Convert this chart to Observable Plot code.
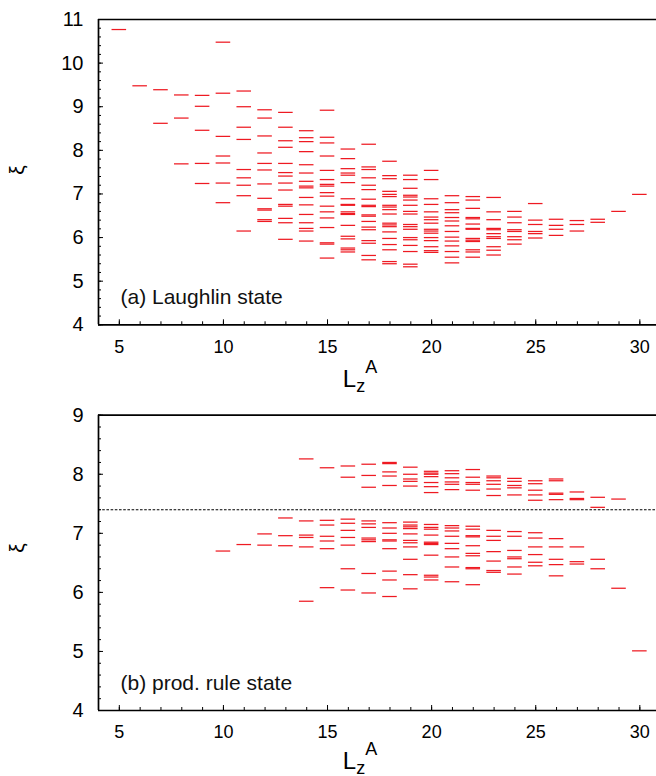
<!DOCTYPE html>
<html><head><meta charset="utf-8">
<script src="https://cdn.jsdelivr.net/npm/d3@7"></script>
<script src="https://cdn.jsdelivr.net/npm/@observablehq/plot@0.6"></script>
<style>
body{margin:0;background:#fff;}
#chart{width:656px;height:776px;overflow:hidden;}
#chart svg{display:block;}
</style>
</head><body><div id="chart"></div>
<script>
// Panel (a): Laughlin state — entanglement levels xi per L_z^A
const laughlinLz = [5,6,7,8,9,10,11,12,13,14,15,16,17,18,19,20,21,22,23,24,25,26,27,28,29,30];
const laughlinXi = [
  [10.77],
  [9.48],
  [9.39, 8.62],
  [9.27, 8.74, 7.69],
  [9.26, 9.01, 8.46, 7.70, 7.24],
  [10.48, 9.31, 8.32, 7.87, 7.71, 7.25, 6.80],
  [9.36, 9.00, 8.53, 8.25, 7.56, 7.37, 7.20, 6.96, 6.15],
  [8.93, 8.74, 8.33, 7.94, 7.70, 7.55, 7.23, 6.90, 6.66, 6.63, 6.41, 6.37],
  [8.87, 8.53, 8.22, 8.07, 7.70, 7.49, 7.41, 7.25, 7.09, 6.76, 6.72, 6.44, 6.34, 5.96],
  [8.45, 8.29, 8.20, 7.97, 7.67, 7.48, 7.29, 7.18, 7.14, 6.92, 6.75, 6.53, 6.34, 6.21, 6.15, 5.92],
  [8.92, 8.30, 8.17, 7.87, 7.54, 7.33, 7.22, 7.18, 7.03, 6.95, 6.72, 6.59, 6.45, 6.23, 5.88, 5.85, 5.53],
  [8.03, 7.81, 7.58, 7.48, 7.43, 7.26, 6.89, 6.76, 6.74, 6.59, 6.55, 6.53, 6.28, 6.03, 5.97, 5.76, 5.72, 5.67],
  [8.14, 7.62, 7.56, 7.37, 7.20, 7.10, 6.88, 6.74, 6.71, 6.52, 6.49, 6.37, 6.24, 6.18, 5.93, 5.87, 5.59, 5.49],
  [7.75, 7.42, 7.35, 7.06, 6.99, 6.94, 6.74, 6.70, 6.64, 6.54, 6.33, 6.29, 6.25, 6.13, 5.98, 5.84, 5.72, 5.45, 5.40],
  [7.43, 7.33, 7.13, 6.97, 6.93, 6.86, 6.74, 6.60, 6.54, 6.30, 6.25, 6.19, 6.00, 5.95, 5.82, 5.68, 5.39, 5.33],
  [7.54, 7.33, 6.89, 6.76, 6.59, 6.47, 6.41, 6.33, 6.19, 6.15, 6.10, 6.00, 5.93, 5.79, 5.70, 5.66],
  [6.96, 6.80, 6.64, 6.57, 6.46, 6.38, 6.27, 6.14, 6.01, 5.92, 5.81, 5.68, 5.55, 5.42],
  [6.94, 6.86, 6.67, 6.46, 6.43, 6.31, 6.21, 6.19, 5.98, 5.94, 5.91, 5.72, 5.67, 5.55],
  [6.92, 6.59, 6.41, 6.21, 6.18, 6.09, 6.02, 5.98, 5.79, 5.71, 5.60],
  [6.60, 6.47, 6.34, 6.18, 6.14, 6.02, 5.95, 5.85],
  [6.78, 6.40, 6.30, 6.14, 6.09, 5.99],
  [6.42, 6.28, 6.19, 6.05],
  [6.39, 6.30, 6.15],
  [6.42, 6.35],
  [6.60],
  [6.99]
];

// Panel (b): product-rule state
const prodLz = [10,11,12,13,14,15,16,17,18,19,20,21,22,23,24,25,26,27,28,29,30];
const prodXi = [
  [6.70],
  [6.81],
  [6.99, 6.80],
  [7.26, 6.96, 6.79],
  [8.26, 7.21, 6.97, 6.93, 6.77, 5.85],
  [8.11, 7.22, 7.14, 6.95, 6.87, 6.74, 6.08],
  [8.14, 7.95, 7.24, 7.17, 7.05, 6.93, 6.80, 6.40, 6.04],
  [8.17, 7.98, 7.78, 7.21, 7.16, 7.10, 6.92, 6.89, 6.86, 6.32, 5.99],
  [8.20, 8.18, 8.04, 7.97, 7.81, 7.18, 7.09, 7.00, 6.89, 6.87, 6.74, 6.36, 6.21, 5.93],
  [8.12, 8.00, 7.92, 7.88, 7.80, 7.19, 7.14, 7.11, 7.08, 6.99, 6.88, 6.84, 6.77, 6.56, 6.30, 6.06],
  [8.05, 8.02, 8.00, 7.96, 7.86, 7.79, 7.69, 7.15, 7.10, 7.07, 6.97, 6.85, 6.83, 6.81, 6.63, 6.29, 6.26, 6.21],
  [8.06, 8.01, 7.94, 7.87, 7.83, 7.74, 7.13, 7.09, 7.04, 6.95, 6.83, 6.74, 6.60, 6.43, 6.18],
  [8.08, 7.95, 7.86, 7.83, 7.73, 7.12, 7.07, 6.96, 6.94, 6.79, 6.66, 6.62, 6.42, 6.40, 6.13],
  [7.97, 7.94, 7.89, 7.83, 7.75, 7.64, 7.05, 6.95, 6.88, 6.69, 6.53, 6.37, 6.34],
  [7.93, 7.88, 7.81, 7.77, 7.65, 7.03, 6.95, 6.71, 6.60, 6.57, 6.43, 6.31],
  [7.89, 7.84, 7.73, 7.65, 7.56, 7.01, 6.92, 6.77, 6.64, 6.51, 6.45],
  [7.92, 7.89, 7.68, 7.66, 7.57, 6.91, 6.77, 6.56, 6.47, 6.28],
  [7.70, 7.59, 7.57, 6.77, 6.52, 6.48],
  [7.61, 7.44, 6.56, 6.40],
  [7.58, 6.07],
  [5.01]
];
const prodGap = [7.40];

const xTicks = [5, 10, 15, 20, 25, 30];
const xMinor = d3.range(4, 31, 1);
const panelAYTicks = [4, 5, 6, 7, 8, 9, 10, 11];
const panelBYTicks = [4, 5, 6, 7, 8, 9];
const panelALabel = "(a) Laughlin state";
const panelBLabel = "(b) prod. rule state";

const FONT = "'Liberation Sans', Arial, Helvetica, sans-serif";
const RED = "#ee1a22";

function panel({lz, xi, yDomain, yTicks, height, marginTop, marginBottom, label, gap, xiLabelY, xLabelDy}) {
  const W = 656, ML = 98, MR = 0;
  const plotW = W - ML - MR;
  const plotH = height - marginTop - marginBottom;
  const rows = lz.flatMap((L, i) => xi[i].map(v => ({L, v})));
  const yMinor = d3.range(Math.round(yDomain[0] * 5), Math.round(yDomain[1] * 5) + 1).map(k => k / 5);
  const marks = [
    Plot.ruleY(rows, {y: "v", x1: d => d.L - 0.35, x2: d => d.L + 0.35, stroke: RED, strokeWidth: 1.25}),
    Plot.tickY(yMinor, {y: d => d, insetRight: plotW - 3, stroke: "#000", strokeWidth: 1}),
    Plot.tickY(yTicks, {y: d => d, insetRight: plotW - 5, stroke: "#000", strokeWidth: 1}),
    Plot.tickX(xMinor, {x: d => d, insetTop: plotH - 3, stroke: "#000", strokeWidth: 1}),
    Plot.tickX(xTicks, {x: d => d, insetTop: plotH - 5, stroke: "#000", strokeWidth: 1}),
    Plot.ruleY([yDomain[0], yDomain[1]], {stroke: "#000", strokeWidth: 1.7}),
    Plot.ruleX([4], {stroke: "#000", strokeWidth: 1.7}),
    Plot.axisY({ticks: yTicks, tickSize: 0, tickPadding: 15, fontSize: 20, label: null, tickFormat: d3.format("d")}),
    Plot.axisX({ticks: xTicks, tickSize: 0, tickPadding: 15, fontSize: 18, label: null, tickFormat: d3.format("d")}),
    Plot.text([label], {frameAnchor: "bottom-left", text: d => d, dx: 22, dy: -21, textAnchor: "start", lineAnchor: "bottom", fontSize: 21, fill: "#111"})
  ];
  if (gap) marks.splice(1, 0, Plot.ruleY(gap, {y: d => d, stroke: "#000", strokeWidth: 1.1, strokeDasharray: "2.6,1.6"}));
  const svg = Plot.plot({
    width: W, height, marginLeft: ML, marginRight: MR, marginTop, marginBottom,
    x: {domain: [4, 30.8]},
    y: {domain: yDomain},
    style: {fontFamily: FONT, color: "#000", background: "#fff", overflow: "hidden"},
    marks
  });
  const s = d3.select(svg);
  const axisY = marginTop + plotH;
  // x label L_z^A
  const t = s.append("text").attr("x", 360).attr("y", axisY + xLabelDy)
    .attr("font-family", FONT).attr("font-size", 24).attr("fill", "#000");
  t.append("tspan").text("L");
  t.append("tspan").attr("font-size", 18).attr("dy", 5).text("z");
  t.append("tspan").attr("font-size", 18).attr("dy", -18.4).text("A");
  // y label xi
  s.append("text").attr("transform", `translate(24,${xiLabelY}) rotate(-90)`)
    .attr("text-anchor", "middle").attr("font-family", FONT).attr("font-size", 21).attr("fill", "#000")
    .text("ξ");
  return svg;
}

const chart = document.getElementById("chart");
chart.append(panel({lz: laughlinLz, xi: laughlinXi, yDomain: [4, 11], yTicks: panelAYTicks,
  height: 395, marginTop: 19, marginBottom: 70.7, label: panelALabel, xiLabelY: 170, xLabelDy: 62.4}));
chart.append(panel({lz: prodLz, xi: prodXi, yDomain: [4, 9], yTicks: panelBYTicks,
  height: 381, marginTop: 19.7, marginBottom: 66, label: panelBLabel, gap: prodGap, xiLabelY: 153, xLabelDy: 58.5}));
</script>
</body></html>
